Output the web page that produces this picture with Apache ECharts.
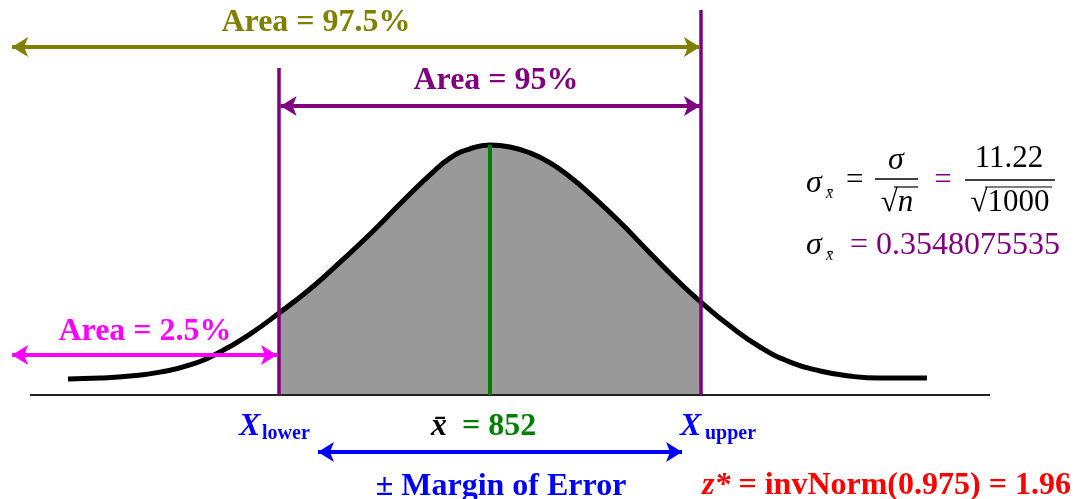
<!DOCTYPE html>
<html>
<head>
<meta charset="utf-8">
<script src="https://cdn.jsdelivr.net/npm/echarts@6/dist/echarts.min.js"></script>
<style>
  html, body { margin: 0; padding: 0; background: #fff; }
  #chart { width: 1076px; height: 499px; }
</style>
</head>
<body>
<div id="chart"></div>
<script>
// sample mean and bounds of the 95% interval (x-bar +/- 1.96 * 0.3548)
const mean = 852
const xLower = 851.3046
const xUpper = 852.6954

const curveX = [850.609, 850.715, 850.814, 850.912, 851.011, 851.110, 851.209, 851.305, 851.407, 851.506,
  851.605, 851.703, 851.802, 851.868, 851.934, 852.000, 852.066, 852.132, 852.198, 852.264,
  852.330, 852.428, 852.527, 852.626, 852.695, 852.791, 852.890, 852.989, 853.088, 853.186,
  853.285, 853.440]
const curveY = [0.072, 0.076, 0.085, 0.103, 0.135, 0.193, 0.274, 0.369, 0.477, 0.598,
  0.724, 0.859, 0.990, 1.066, 1.107, 1.125, 1.116, 1.089, 1.044, 0.981,
  0.904, 0.778, 0.639, 0.504, 0.418, 0.310, 0.216, 0.148, 0.108, 0.085,
  0.076, 0.076]

// baseline ends, heights of the guide lines
const baseX = [850.484, 853.648]
const guideTop = { lower: 1.471, upper: 1.732, mean: 1.125 }

// arrows: [from, to, height]
const arrow975 = [850.425, 852.692, 1.566]
const arrow95 = [851.310, 852.692, 1.300]
const arrow25 = [850.425, 851.298, 0.180]
const arrowMoe = [851.433, 852.633, -0.256]

const curve = curveX.map((x, i) => [x, curveY[i]])
const shaded = curve.filter(p => p[0] >= xLower - 0.001 && p[0] <= xUpper + 0.001)

const serif = '"Liberation Serif", "Times New Roman", serif'

function arrowLine (a, color) {
  return [
    { coord: [a[0], a[2]], lineStyle: { color: color, width: 4, type: 'solid' }, itemStyle: { color: color } },
    { coord: [a[1], a[2]] }
  ]
}
function vLine (x, top, color, w) {
  return [
    { coord: [x, 0], lineStyle: { color: color, width: w, type: 'solid' } },
    { coord: [x, top] }
  ]
}
function txt (text, x, y, font, fill, align, rich) {
  return {
    type: 'text',
    x: x,
    y: y,
    silent: true,
    style: { text: text, font: font, fill: fill, align: align || 'left', verticalAlign: 'middle', rich: rich }
  }
}
function bar (x1, x2, y, w) {
  return {
    type: 'line',
    silent: true,
    shape: { x1: x1, y1: y, x2: x2, y2: y },
    style: { stroke: '#000', lineWidth: w || 1.5 }
  }
}

const bold = 'bold 32px ' + serif
const myChart = echarts.init(document.getElementById('chart'))
myChart.setOption({
  animation: false,
  backgroundColor: '#fff',
  grid: { left: 0, right: 0, top: 6, bottom: 0 },
  xAxis: { type: 'value', min: 850.3851, max: 853.9313, show: false },
  yAxis: { type: 'value', min: -0.4679, max: 1.75, show: false },
  series: [
    {
      name: 'shade',
      type: 'line',
      smooth: true,
      symbol: 'none',
      silent: true,
      lineStyle: { width: 0 },
      areaStyle: { color: '#999999', opacity: 1, origin: 'auto' },
      data: shaded
    },
    {
      name: 'base',
      type: 'line',
      symbol: 'none',
      silent: true,
      lineStyle: { color: '#222', width: 2 },
      data: [[baseX[0], 0], [baseX[1], 0]],
      markLine: {
        silent: true,
        symbol: ['arrow', 'arrow'],
        symbolSize: [15, 16],
        label: { show: false },
        data: [arrowLine(arrow25, '#ff00ff')]
      }
    },
    {
      name: 'curve',
      type: 'line',
      smooth: true,
      symbol: 'none',
      silent: true,
      lineStyle: { color: '#000', width: 5 },
      data: curve
    },
    {
      name: 'guides',
      type: 'line',
      symbol: 'none',
      silent: true,
      data: [],
      markLine: {
        silent: true,
        symbol: ['none', 'none'],
        label: { show: false },
        data: [
          vLine(xLower, guideTop.lower, '#800080', 3.5),
          vLine(xUpper, guideTop.upper, '#800080', 3.5),
          vLine(mean, guideTop.mean, '#008000', 4)
        ]
      }
    },
    {
      name: 'arrows',
      type: 'line',
      symbol: 'none',
      silent: true,
      data: [],
      markLine: {
        silent: true,
        symbol: ['arrow', 'arrow'],
        symbolSize: [15, 16],
        label: { show: false },
        data: [
          arrowLine(arrow975, '#808000'),
          arrowLine(arrow95, '#800080'),
          arrowLine(arrowMoe, '#0000ff')
        ]
      }
    }
  ],
  graphic: [
    txt('Area = 97.5%', 316, 23, bold, '#808000', 'center'),
    txt('Area = 95%', 496, 81, bold, '#800080', 'center'),
    txt('Area = 2.5%', 145, 332, bold, '#ff00ff', 'center'),
    txt('X', 239, 427, 'italic bold 32px ' + serif, '#0000ff'),
    txt('lower', 262, 434, 'bold 20px ' + serif, '#0000ff'),
    txt('X', 680, 427, 'italic bold 32px ' + serif, '#0000ff'),
    txt('upper', 705, 434, 'bold 20px ' + serif, '#0000ff'),
    txt('x\u0304', 439, 427, 'italic bold 32px ' + serif, '#000', 'center'),
    txt('= 852', 462, 427, bold, '#008000'),
    txt('\u00b1 Margin of Error', 501, 487, bold, '#0000ff', 'center'),
    txt('{i|z*}{n| = invNorm(0.975) = 1.96}', 702, 486, bold, '#ff0000', 'left', {
      i: { font: 'italic bold 32px ' + serif, fill: '#ff0000' },
      n: { font: bold, fill: '#ff0000' }
    }),
    // sigma formula
    txt('\u03c3', 806, 184, 'italic 32px ' + serif, '#000'),
    txt('x\u0304', 826, 194, 'italic 16px ' + serif, '#000'),
    txt('=', 846, 181, '31px ' + serif, '#000'),
    txt('\u03c3', 896, 161, 'italic 32px ' + serif, '#000', 'center'),
    bar(875, 918, 179),
    txt('{r|\u221a}{n|n}', 897, 203, '31px ' + serif, '#000', 'center', {
      r: { font: '31px ' + serif, fill: '#000' },
      n: { font: 'italic 31px ' + serif, fill: '#000' }
    }),
    bar(894, 918, 187, 1.2),
    txt('=', 943, 181, '31px ' + serif, '#800080', 'center'),
    txt('11.22', 1009, 159, '31px ' + serif, '#000', 'center'),
    bar(965, 1055, 180),
    txt('\u221a1000', 1010, 203, '31px ' + serif, '#000', 'center'),
    bar(985, 1052, 187, 1.2),
    txt('\u03c3', 806, 246, 'italic 32px ' + serif, '#000'),
    txt('x\u0304', 826, 256, 'italic 16px ' + serif, '#000'),
    txt('= 0.3548075535', 850, 246, '32px ' + serif, '#800080')
  ]
})
</script>
</body>
</html>
